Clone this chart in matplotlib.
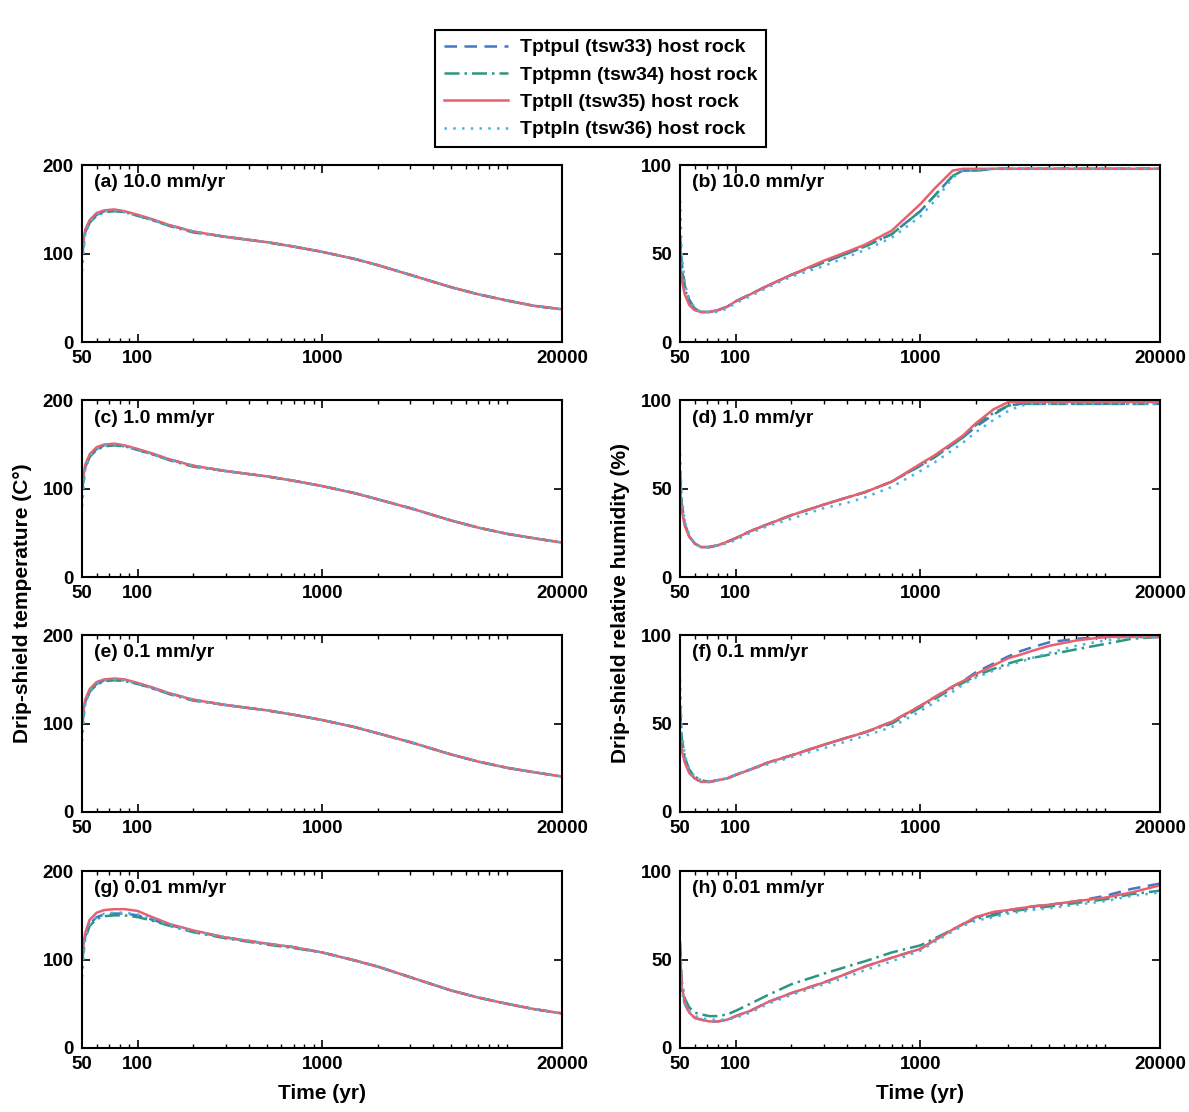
import numpy as np
import matplotlib
matplotlib.use("Agg")
import matplotlib.pyplot as plt
from matplotlib.ticker import FixedLocator, NullFormatter

plt.rcParams['font.family'] = ['Liberation Sans', 'DejaVu Sans']
plt.rcParams['font.weight'] = 'bold'
plt.rcParams['axes.labelweight'] = 'bold'

# time grids (yr)
t_temp = [50, 52, 55, 60, 66, 75, 85, 100, 120, 150, 200, 300, 500, 700, 1000,
          1500, 2000, 3000, 5000, 7000, 10000, 14000, 20000]
t_rh = [50, 51, 53, 56, 60, 65, 72, 80, 90, 100, 120, 150, 200, 300, 400, 500, 700,
        1000, 1200, 1500, 1700, 2000, 2500, 3000, 3500, 4000, 5000, 7000, 10000, 14000, 20000]

series_labels = ["Tptpul (tsw33) host rock", "Tptpmn (tsw34) host rock",
                 "Tptpll (tsw35) host rock", "Tptpln (tsw36) host rock"]

# drip-shield temperature (C), order: tsw33, tsw34, tsw35, tsw36
temp_a_33 = [100, 124, 136, 144, 148, 149, 147, 143, 138, 132, 125, 119, 113, 108, 102, 94, 87, 76, 62, 54, 47, 41, 37]
temp_a_34 = [98, 123, 135, 143, 147, 148, 147, 143, 138, 131, 124, 119, 113, 108, 102, 94, 87, 76, 62, 54, 47, 41, 37]
temp_a_35 = [105, 127, 138, 146, 149, 150, 148, 144, 139, 132, 125, 119, 113, 108, 102, 94, 87, 76, 62, 54, 47, 41, 37]
temp_a_36 = [80, 122, 136, 144, 148, 149, 147, 143, 138, 132, 125, 119, 113, 108, 102, 94, 87, 76, 62, 54, 47, 41, 37]

temp_c_33 = [100, 124, 137, 145, 149, 150, 148, 144, 139, 133, 126, 120, 114, 109, 103, 95, 88, 78, 64, 56, 49, 44, 39]
temp_c_34 = [98, 123, 136, 144, 148, 149, 148, 144, 139, 132, 125, 120, 114, 109, 103, 95, 88, 78, 64, 56, 49, 44, 39]
temp_c_35 = [105, 127, 139, 147, 150, 151, 149, 145, 140, 133, 126, 120, 114, 109, 103, 95, 88, 78, 64, 56, 49, 44, 39]
temp_c_36 = [80, 122, 137, 145, 149, 150, 148, 144, 139, 133, 126, 120, 114, 109, 103, 95, 88, 78, 64, 56, 49, 44, 39]

temp_e_33 = [100, 124, 137, 145, 149, 150, 149, 145, 140, 134, 127, 121, 115, 110, 104, 96, 89, 79, 65, 57, 50, 45, 40]
temp_e_34 = [98, 123, 136, 144, 148, 149, 148, 145, 140, 133, 126, 121, 115, 110, 104, 96, 89, 79, 65, 57, 50, 45, 40]
temp_e_35 = [105, 127, 139, 147, 150, 151, 150, 146, 141, 134, 127, 121, 115, 110, 104, 96, 89, 79, 65, 57, 50, 45, 40]
temp_e_36 = [80, 122, 137, 145, 149, 150, 149, 145, 140, 134, 127, 121, 115, 110, 104, 96, 89, 79, 65, 57, 50, 45, 40]

temp_g_33 = [100, 126, 140, 148, 151, 152, 152, 150, 145, 139, 132, 125, 118, 114, 108, 99, 92, 80, 65, 57, 50, 44, 39]
temp_g_34 = [98, 124, 138, 146, 149, 150, 150, 148, 144, 138, 131, 124, 117, 113, 108, 99, 92, 80, 65, 57, 50, 44, 39]
temp_g_35 = [105, 130, 145, 153, 156, 157, 157, 155, 148, 140, 133, 125, 118, 114, 108, 99, 92, 80, 65, 57, 50, 44, 39]
temp_g_36 = [80, 125, 140, 148, 152, 153, 153, 151, 146, 139, 132, 125, 118, 114, 108, 99, 92, 80, 65, 57, 50, 44, 39]

# drip-shield relative humidity (%)
rh_b_33 = [60, 45, 32, 24, 19, 17, 17, 18, 20, 23, 27, 32, 38, 45, 50, 54, 61, 74, 83, 94, 97, 97, 98, 98, 98, 98, 98, 98, 98, 98, 98]
rh_b_34 = [55, 42, 30, 23, 19, 17, 17, 18, 20, 23, 27, 32, 38, 45, 50, 54, 61, 74, 83, 94, 97, 97, 98, 98, 98, 98, 98, 98, 98, 98, 98]
rh_b_35 = [45, 35, 27, 21, 18, 17, 17, 18, 20, 23, 27, 32, 38, 46, 51, 55, 63, 78, 87, 97, 98, 98, 98, 98, 98, 98, 98, 98, 98, 98, 98]
rh_b_36 = [80, 50, 33, 24, 19, 17, 17, 17, 19, 22, 26, 31, 37, 43, 48, 52, 59, 71, 80, 93, 97, 97, 98, 98, 98, 98, 98, 98, 98, 98, 98]

rh_d_33 = [55, 40, 30, 23, 19, 17, 17, 18, 20, 22, 26, 30, 35, 41, 45, 48, 54, 63, 68, 75, 79, 85, 92, 97, 98, 98, 98, 98, 98, 98, 98]
rh_d_34 = [60, 42, 30, 23, 19, 17, 17, 18, 20, 22, 26, 30, 35, 41, 45, 48, 54, 63, 68, 75, 79, 86, 93, 97, 98, 98, 98, 98, 98, 98, 98]
rh_d_35 = [50, 38, 29, 23, 19, 17, 17, 18, 20, 22, 26, 30, 35, 41, 45, 48, 54, 64, 69, 76, 80, 87, 95, 99, 99, 99, 99, 99, 99, 99, 99]
rh_d_36 = [70, 45, 31, 24, 19, 17, 17, 18, 19, 21, 25, 29, 33, 39, 42, 45, 51, 60, 65, 72, 76, 82, 89, 94, 97, 98, 98, 98, 98, 98, 98]

rh_f_33 = [55, 40, 30, 23, 19, 17, 17, 18, 19, 21, 24, 28, 32, 38, 42, 45, 51, 60, 65, 71, 74, 79, 84, 88, 91, 93, 96, 98, 99, 99, 99]
rh_f_34 = [60, 42, 31, 24, 20, 18, 17, 18, 19, 21, 24, 28, 32, 38, 42, 45, 50, 59, 64, 70, 73, 77, 81, 84, 86, 87, 89, 92, 95, 98, 99]
rh_f_35 = [45, 35, 28, 22, 19, 17, 17, 18, 19, 21, 24, 28, 32, 38, 42, 45, 51, 60, 65, 71, 74, 78, 83, 87, 89, 91, 94, 97, 99, 99, 99]
rh_f_36 = [75, 45, 32, 24, 20, 18, 17, 18, 19, 21, 24, 27, 31, 36, 40, 43, 48, 57, 62, 68, 72, 76, 80, 83, 85, 87, 90, 94, 97, 99, 99]

rh_h_33 = [50, 33, 25, 20, 17, 16, 15, 15, 16, 18, 21, 26, 31, 37, 42, 46, 51, 56, 61, 67, 70, 74, 76, 78, 79, 80, 81, 83, 86, 90, 93]
rh_h_34 = [60, 38, 28, 23, 20, 19, 18, 18, 19, 21, 25, 30, 36, 42, 46, 49, 54, 58, 62, 67, 70, 73, 75, 77, 78, 79, 80, 82, 84, 87, 89]
rh_h_35 = [55, 35, 26, 20, 17, 16, 15, 15, 16, 18, 21, 26, 31, 37, 42, 46, 51, 56, 61, 67, 70, 74, 77, 78, 79, 80, 81, 83, 85, 88, 92]
rh_h_36 = [45, 32, 25, 21, 18, 17, 16, 16, 16, 17, 20, 25, 30, 36, 40, 44, 49, 55, 60, 66, 69, 72, 74, 76, 77, 78, 79, 81, 83, 86, 88]

temp_panels = [("(a) 10.0 mm/yr", [temp_a_33, temp_a_34, temp_a_35, temp_a_36]),
               ("(c) 1.0 mm/yr", [temp_c_33, temp_c_34, temp_c_35, temp_c_36]),
               ("(e) 0.1 mm/yr", [temp_e_33, temp_e_34, temp_e_35, temp_e_36]),
               ("(g) 0.01 mm/yr", [temp_g_33, temp_g_34, temp_g_35, temp_g_36])]
rh_panels = [("(b) 10.0 mm/yr", [rh_b_33, rh_b_34, rh_b_35, rh_b_36]),
             ("(d) 1.0 mm/yr", [rh_d_33, rh_d_34, rh_d_35, rh_d_36]),
             ("(f) 0.1 mm/yr", [rh_f_33, rh_f_34, rh_f_35, rh_f_36]),
             ("(h) 0.01 mm/yr", [rh_h_33, rh_h_34, rh_h_35, rh_h_36])]

styles = [dict(color="#3f78c8", linestyle=(0, (5, 3))),
          dict(color="#2e9580", linestyle=(0, (6, 2, 1, 2))),
          dict(color="#e8606e", linestyle="-"),
          dict(color="#45b4e4", linestyle=(0, (1, 2.5)))]

minor_x = [m * 10 ** e for e in range(1, 5) for m in range(1, 10) if 50 < m * 10 ** e < 20000]

fig = plt.figure(figsize=(11.89, 11.12), dpi=100)
lefts = [0.069, 0.572]
width = 0.404
bottoms = [0.6924, 0.481, 0.2698, 0.0576]
height = 0.159

handles = []
for col, (panels, ylim, yticks) in enumerate([(temp_panels, 200, [0, 100, 200]),
                                              (rh_panels, 100, [0, 50, 100])]):
    tt = t_temp if col == 0 else t_rh
    for row, (label, data) in enumerate(panels):
        ax = fig.add_axes([lefts[col], bottoms[row], width, height])
        for i, vals in enumerate(data):
            ln, = ax.plot(tt, vals, lw=1.8, label=series_labels[i], **styles[i])
            if row == 0 and col == 0:
                handles.append(ln)
        ax.set_xscale("log")
        ax.set_xlim(50, 20000)
        ax.set_ylim(0, ylim)
        ax.set_yticks(yticks)
        ax.xaxis.set_major_locator(FixedLocator([50, 100, 1000, 20000]))
        ax.set_xticklabels(["50", "100", "1000", "20000"])
        ax.xaxis.set_minor_locator(FixedLocator(minor_x))
        ax.xaxis.set_minor_formatter(NullFormatter())
        ax.tick_params(which="both", direction="in", top=True, right=True,
                       labelsize=13.5, pad=6)
        ax.tick_params(which="major", length=6, width=1.2)
        ax.tick_params(which="minor", length=3, width=1)
        for sp in ax.spines.values():
            sp.set_linewidth(1.5)
        ax.text(0.025, 0.9, label, transform=ax.transAxes, fontsize=14,
                fontweight="bold", va="center", ha="left")
        if row == 3:
            ax.set_xlabel("Time (yr)", fontsize=15, labelpad=8)

fig.text(0.019, 0.458, "Drip-shield temperature (C°)", rotation=90,
         fontsize=15, fontweight="bold", va="center", ha="center")
fig.text(0.522, 0.458, "Drip-shield relative humidity (%)", rotation=90,
         fontsize=15, fontweight="bold", va="center", ha="center")

leg = fig.legend(handles=handles, labels=series_labels, loc="upper center",
                 bbox_to_anchor=(0.505, 0.973), borderaxespad=0, fontsize=14,
                 frameon=True, fancybox=False, edgecolor="black", framealpha=1,
                 handlelength=3.3, labelspacing=0.5, borderpad=0.45,
                 handletextpad=0.6)
leg.get_frame().set_linewidth(1.5)

fig.savefig("out.png", dpi=100)
